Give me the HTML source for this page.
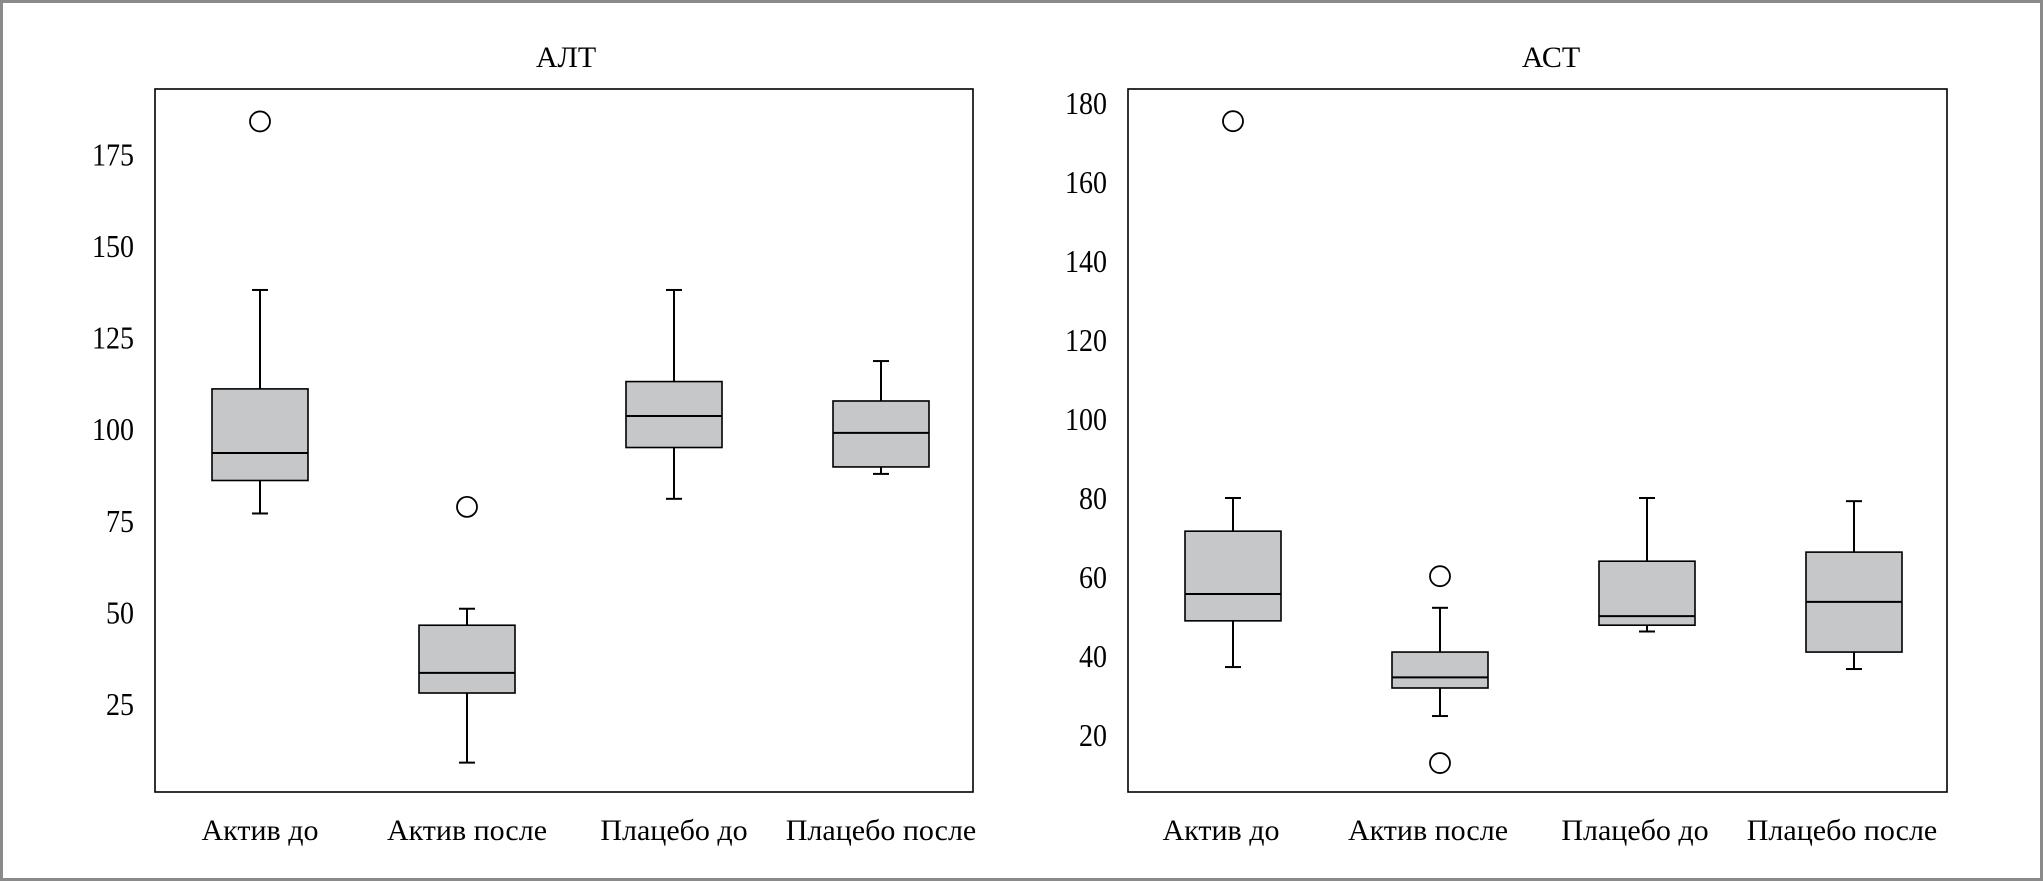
<!DOCTYPE html>
<html><head><meta charset="utf-8">
<style>
html,body{margin:0;padding:0;background:#fff}
#wrap{position:relative;width:2043px;height:881px;box-sizing:border-box;border:3px solid #8a8a8a;background:#fff}
svg{position:absolute;left:-3px;top:-3px}
text{font-family:"Liberation Serif","Noto Serif CJK SC",serif;fill:#000}
</style></head>
<body>
<div id="wrap">
<svg id="svg" width="2043" height="881"></svg>
</div>
<script>
const categories = ["Актив до","Актив после","Плацебо до","Плацебо после"];
// ALT series
const altLow = [77, 9, 81, 87.8];
const altQ1 = [86, 28, 95, 89.7];
const altMed = [93.5, 33.5, 103.6, 99];
const altQ3 = [111, 46.5, 113, 107.7];
const altHigh = [138, 51, 138, 118.6];
const altOutliers = [[184],[78.8],[],[]];
const altTicks = [25,50,75,100,125,150,175];
// AST series
const astLow = [37.2, 24.8, 46.2, 36.7];
const astQ1 = [48.9, 31.9, 47.8, 41];
const astMed = [55.7, 34.6, 50.1, 53.7];
const astQ3 = [71.6, 41, 64, 66.3];
const astHigh = [80, 52.2, 80, 79.2];
const astOutliers = [[175.4],[60.2,12.9],[],[]];
const astTicks = [20,40,60,80,100,120,140,160,180];

const NS="http://www.w3.org/2000/svg";
const svg=document.getElementById('svg');
function mk(tag,attrs,parent){const e=document.createElementNS(NS,tag);for(const k in attrs)e.setAttribute(k,attrs[k]);(parent||svg).appendChild(e);return e;}

function panel(cfg){
  const g=mk('g',{});
  
  
  const y=v=>cfg.y0-(v-cfg.v0)*cfg.k;
  const x=i=>cfg.xStart+i*cfg.xStep;
  const frame=mk('rect',{x:cfg.left,y:89,width:cfg.right-cfg.left,height:792-89,fill:'none',stroke:'#000','stroke-width':1.6},g);
  
  
  const t=mk('text',{x:cfg.titleX,y:67,'font-size':30,'text-anchor':'middle'},g);
  t.textContent=cfg.title;
  
  
  cfg.ticks.forEach(v=>{
    const tl=mk('text',{x:cfg.tickX,y:y(v)+11,'font-size':32,'text-anchor':'end',textLength:String(v).length*14,lengthAdjust:'spacingAndGlyphs'},g);
    tl.textContent=String(v);
    
    
  });
  categories.forEach((c,i)=>{
    const cx=x(i), hw=48;
    const bg=mk('g',{},g);
    
    
    mk('line',{x1:cx,x2:cx,y1:y(cfg.high[i]),y2:y(cfg.q3[i]),stroke:'#000','stroke-width':2},bg);
    mk('line',{x1:cx,x2:cx,y1:y(cfg.q1[i]),y2:y(cfg.low[i]),stroke:'#000','stroke-width':2},bg);
    mk('line',{x1:cx-8,x2:cx+8,y1:y(cfg.high[i]),y2:y(cfg.high[i]),stroke:'#000','stroke-width':2},bg);
    mk('line',{x1:cx-8,x2:cx+8,y1:y(cfg.low[i]),y2:y(cfg.low[i]),stroke:'#000','stroke-width':2},bg);
    mk('rect',{x:cx-hw,y:y(cfg.q3[i]),width:hw*2,height:y(cfg.q1[i])-y(cfg.q3[i]),fill:'#c6c7c9',stroke:'#000','stroke-width':1.6},bg);
    mk('line',{x1:cx-hw,x2:cx+hw,y1:y(cfg.med[i]),y2:y(cfg.med[i]),stroke:'#000','stroke-width':2},bg);
    cfg.out[i].forEach(v=>{
      const o=mk('circle',{cx:cx,cy:y(v),r:10,fill:'#fff',stroke:'#000','stroke-width':1.8},bg);
      
      
    });
    const cl=mk('text',{x:cx+cfg.labelShift,y:840,'font-size':30,'text-anchor':'middle'},g);
    cl.textContent=c;
    
    
  });
}
panel({name:'alt',title:'АЛТ',titleX:566,labelShift:0,left:155,right:973,y0:704,v0:25,k:3.664,xStart:260,xStep:207,tickX:134,
  ticks:altTicks,low:altLow,q1:altQ1,med:altMed,q3:altQ3,high:altHigh,out:altOutliers});
panel({name:'ast',title:'АСТ',titleX:1551,labelShift:-12,left:1128,right:1947,y0:735,v0:20,k:3.95,xStart:1233,xStep:207,tickX:1107,
  ticks:astTicks,low:astLow,q1:astQ1,med:astMed,q3:astQ3,high:astHigh,out:astOutliers});
</script>
</body></html>
